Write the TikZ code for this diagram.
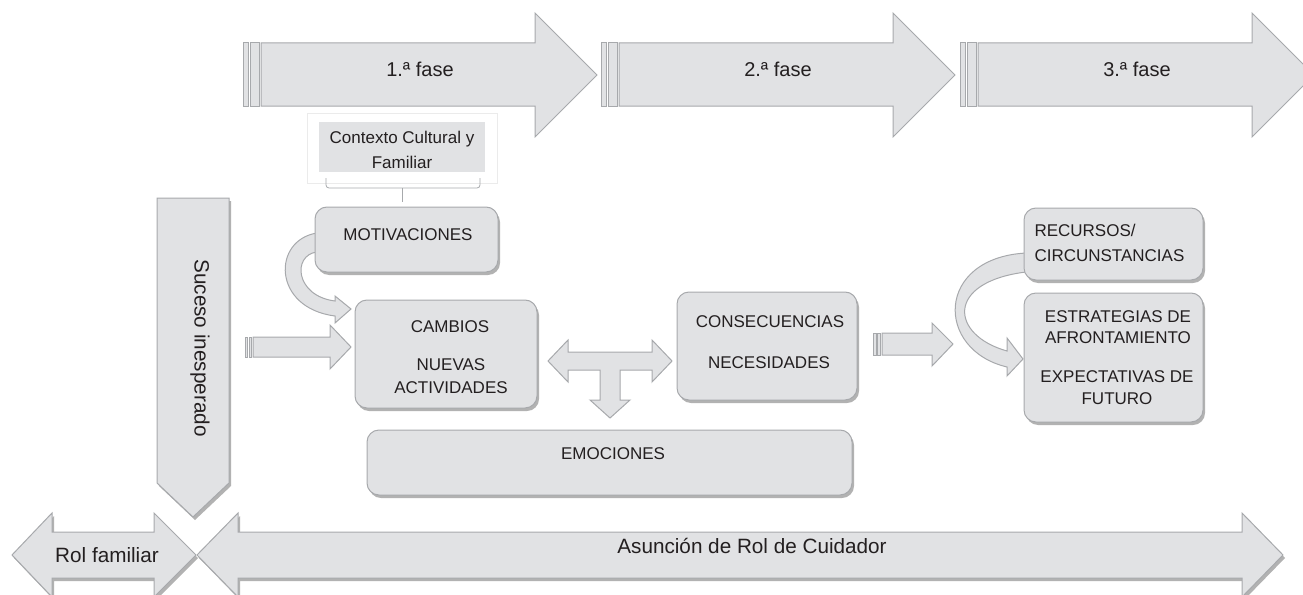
\documentclass[tikz,border=0pt]{standalone}
\usepackage{fontspec}
\setmainfont{Liberation Sans}
\usetikzlibrary{shadows}
\definecolor{shapegray}{HTML}{E1E2E4}
\definecolor{edgegray}{HTML}{A7A9AC}
\definecolor{inkgray}{HTML}{231F20}
\begin{document}
\begin{tikzpicture}[x=1pt,y=-1pt,
  blockarrow/.style={fill=shapegray,draw=edgegray,line width=1pt},
  softshadow/.style={drop shadow={shadow xshift=2pt,shadow yshift=-3pt,fill=black,opacity=.3}},
  box/.style={blockarrow,softshadow,rounded corners=12pt,inner sep=0pt},
  lbl/.style={text=inkgray,font=\fontsize{17}{22}\selectfont,align=center},
  biglbl/.style={text=inkgray,font=\fontsize{20.7}{24}\selectfont}]
\useasboundingbox (0,0) rectangle (1303,594);
\foreach \x/\n in {243/1,601/2,960/3} {
  \path[blockarrow] (\x,43) rectangle (\x+5,106);
  \path[blockarrow] (\x+7,43) rectangle (\x+16,106);
  \path[blockarrow] (\x+18,43) -- (\x+292,43) -- (\x+292,13) -- (\x+354,75) -- (\x+292,137) -- (\x+292,106) -- (\x+18,106) -- cycle;
  \node[biglbl,font=\fontsize{20}{24}\selectfont] (fase\n) at (\x+177,69) {\n.ª fase};
}
\node[draw=black!8,fill=white,line width=1pt,minimum width=190pt,minimum height=70pt] (ctxframe) at (402,148) {};
\node[fill=shapegray,minimum width=166pt,minimum height=50pt] (ctx) at (402,147) {};
\node[lbl,font=\fontsize{17}{25}\selectfont] (ctxtext) at (402,150) {Contexto Cultural y\\Familiar};
\draw[edgegray,line width=.8pt,rounded corners=3pt] (326,178) -- (326,188) -- (480,188) -- (480,178);
\draw[edgegray,line width=.8pt] (402,188) -- (402,202);
\path[blockarrow,softshadow] (157,198) -- (229,198) -- (229,483) -- (193,517) -- (157,483) -- cycle;
\node[biglbl,rotate=-90] (suceso) at (200,348) {Suceso inesperado};
\path[blockarrow] (317,233) .. controls (272,240) and (272,308) .. (335,316) -- (335,323) -- (351,309) -- (335,296) -- (335,301) .. controls (295,296) and (292,255) .. (317,252) -- cycle;
\path[blockarrow] (1026,253) .. controls (935,258) and (935,350) .. (1007,367) -- (1007,376) -- (1023,359) -- (1007,338) -- (1007,351) .. controls (950,335) and (945,282) .. (1026,272) -- cycle;
\node[box,minimum width=183pt,minimum height=65pt] (motiv) at (406.5,239.5) {};
\node[box,minimum width=182pt,minimum height=108pt] (cambios) at (446,354) {};
\node[box,minimum width=180pt,minimum height=108pt] (conseq) at (767,346) {};
\node[box,minimum width=485pt,minimum height=65pt] (emoc) at (609.5,462.5) {};
\node[box,minimum width=179pt,minimum height=72pt] (recursos) at (1113.5,244) {};
\node[box,minimum width=179pt,minimum height=129pt] (estrat) at (1113.5,357.5) {};
\path[blockarrow] (245,337) rectangle (247,357);
\path[blockarrow] (249,337) rectangle (251,357);
\path[blockarrow] (253,337) -- (330,337) -- (330,325) -- (351,347) -- (330,369) -- (330,357) -- (253,357) -- cycle;
\path[blockarrow] (548,361) -- (568,340) -- (568,352) -- (652,352) -- (652,340) -- (672,361) -- (652,382) -- (652,370) -- (620,370) -- (620,400) -- (630,400) -- (610,418) -- (590,400) -- (600,400) -- (600,370) -- (568,370) -- (568,382) -- cycle;
\path[blockarrow] (873,333) rectangle (876,355);
\path[blockarrow] (877,333) rectangle (880,355);
\path[blockarrow] (882,333) -- (932,333) -- (932,323) -- (953,344) -- (932,366) -- (932,355) -- (882,355) -- cycle;
\node[lbl] (motivtext) at (408,235) {MOTIVACIONES};
\node[lbl] (cambiostext) at (450,327) {CAMBIOS};
\node[lbl,font=\fontsize{17}{23}\selectfont] (nuevastext) at (451,376) {NUEVAS\\ACTIVIDADES};
\node[lbl] (conseqtext) at (770,322) {CONSECUENCIAS};
\node[lbl] (necestext) at (769,363) {NECESIDADES};
\node[lbl] (emoctext) at (613,454) {EMOCIONES};
\node[lbl,align=left,anchor=west,font=\fontsize{17}{25}\selectfont] (recursostext) at (1031,242.5) {RECURSOS/\\CIRCUNSTANCIAS};
\node[lbl,font=\fontsize{17}{21}\selectfont] (estrattext) at (1118,327.5) {ESTRATEGIAS DE\\AFRONTAMIENTO};
\node[lbl,font=\fontsize{17}{22}\selectfont] (expectext) at (1117,388) {EXPECTATIVAS DE\\FUTURO};
\path[blockarrow,softshadow] (12,555) -- (52,513) -- (52,532) -- (154,532) -- (154,513) -- (196,555) -- (154,597) -- (154,578) -- (52,578) -- (52,597) -- cycle;
\path[blockarrow,softshadow] (197,555) -- (238,513) -- (238,532) -- (1242,532) -- (1242,513) -- (1283,555) -- (1242,597) -- (1242,578) -- (238,578) -- (238,597) -- cycle;
\node[biglbl] (rol) at (107,555) {Rol familiar};
\node[biglbl] (asuncion) at (752,546) {Asunción de Rol de Cuidador};
\end{tikzpicture}
\end{document}
